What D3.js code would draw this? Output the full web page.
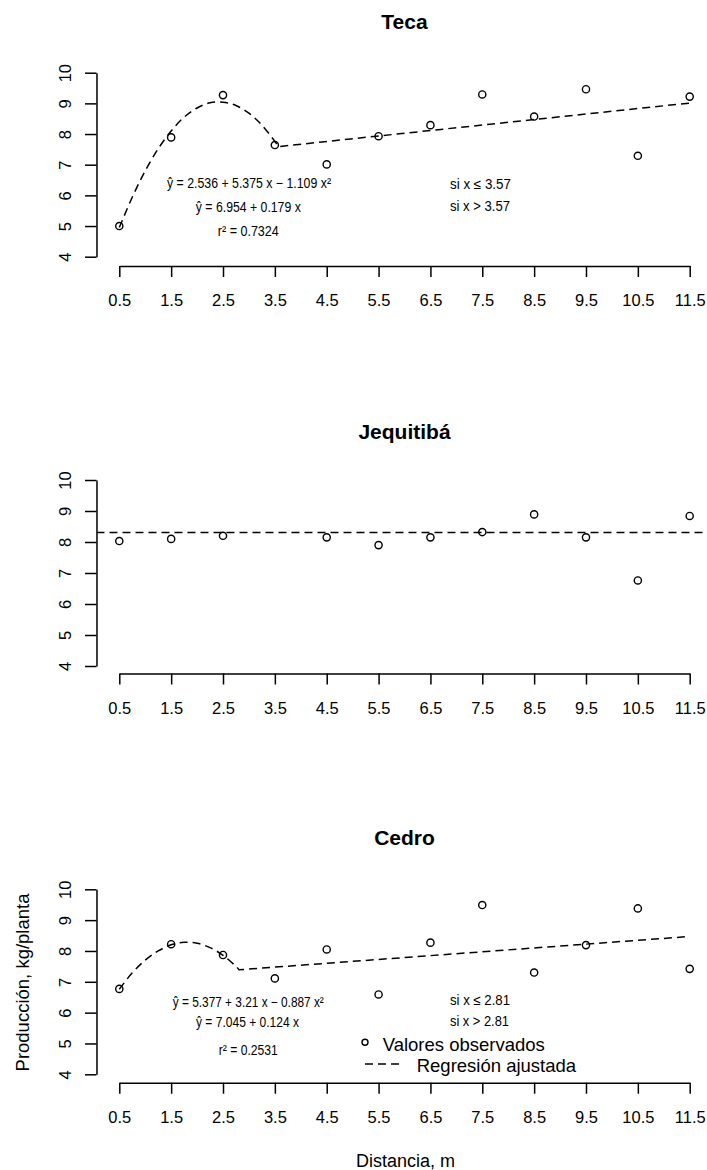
<!DOCTYPE html>
<html><head><meta charset="utf-8">
<script src="https://cdn.jsdelivr.net/npm/d3@7"></script>
<style>body{margin:0;background:#fff} svg{display:block}</style>
</head><body>
<script>
// ---------- data ----------
const distancias = [0.5, 1.5, 2.5, 3.5, 4.5, 5.5, 6.5, 7.5, 8.5, 9.5, 10.5, 11.5];
const xTickLabels = ["0.5","1.5","2.5","3.5","4.5","5.5","6.5","7.5","8.5","9.5","10.5","11.5"];
const yTicks = [4, 5, 6, 7, 8, 9, 10];
const yTickLabels = ["4", "5", "6", "7", "8", "9", "10"];
const titles = ["Teca", "Jequitibá", "Cedro"];

const teca      = [5.00, 7.89, 9.27, 7.64, 7.01, 7.93, 8.29, 9.29, 8.57, 9.46, 7.29, 9.22];
const jequitiba = [8.03, 8.10, 8.20, null, 8.15, 7.90, 8.15, 8.32, 8.89, 8.15, 6.76, 8.84];
const cedro     = [6.77, 8.22, 7.87, 7.11, 8.05, 6.59, 8.27, 9.49, 7.30, 8.19, 9.38, 7.42];

// fitted curves (curved part, then straight part)
const tecaFitX = [0.5, 0.75, 1.0, 1.25, 1.5, 1.75, 2.0, 2.25, 2.5, 2.75, 3.0, 3.25, 3.5, 3.57, 11.5];
const tecaFitY = [4.95, 5.94, 6.80, 7.52, 8.10, 8.55, 8.85, 9.02, 9.04, 8.93, 8.68, 8.29, 7.76, 7.59, 9.01];
const jequitibaFit = 8.31;
const cedroFitX = [0.5, 0.75, 1.0, 1.25, 1.5, 1.75, 2.0, 2.25, 2.5, 2.75, 2.81, 11.5];
const cedroFitY = [6.76, 7.29, 7.70, 8.00, 8.20, 8.28, 8.25, 8.11, 7.86, 7.50, 7.39, 8.47];

const tecaEq  = ["ŷ = 2.536 + 5.375 x − 1.109 x²", "ŷ = 6.954 + 0.179 x", "r² = 0.7324"];
const tecaCond = ["si  x ≤ 3.57", "si  x > 3.57"];
const cedroEq = ["ŷ = 5.377 + 3.21 x − 0.887 x²", "ŷ = 7.045 + 0.124 x", "r² = 0.2531"];
const cedroCond = ["si  x ≤ 2.81", "si  x > 2.81"];

const legendLabels = ["Valores observados", "Regresión ajustada"];
const xLabel = "Distancia, m";
const yLabel = "Producción, kg/planta";

// ---------- layout ----------
const W = 707, H = 1170;
const FONT = "'Liberation Sans', Arial, sans-serif";
const svg = d3.select("body").append("svg").attr("width", W).attr("height", H)
  .style("font-family", FONT);

const x = d3.scaleLinear().domain([0.5, 11.5]).range([119.3, 689.7]);
const plotLeft = x(0.06), plotRight = x(11.94);

const panels = [
  {y10: 72.7, y4: 256.7, axisY: 266, titleY: 29, obs: teca, fitX: tecaFitX, fitY: tecaFitY,
   eq: tecaEq, cond: tecaCond, eqBase: [188, 212, 236], eqW: [164, 105, 61], eqC: [249, 248.3, 248.3],
   condBase: [189.3, 210.7], condW: [61, 60]},
  {y10: 480, y4: 666, axisY: 673.5, titleY: 438.5, obs: jequitiba, hline: jequitibaFit},
  {y10: 889.3, y4: 1074.3, axisY: 1082.7, titleY: 845, obs: cedro, fitX: cedroFitX, fitY: cedroFitY,
   eq: cedroEq, cond: cedroCond, eqBase: [1006.5, 1027, 1054.5], eqW: [151, 103, 59], eqC: [248.3, 247.5, 248.3],
   condBase: [1005, 1026], condW: [60, 59], legend: true, ylab: true, xlab: true}
];

panels.forEach((p, i) => {
  const y = d3.scaleLinear().domain([4, 10]).range([p.y4, p.y10]);
  const g = svg.append("g");
  const clipId = "clip" + i;
  svg.append("clipPath").attr("id", clipId).append("rect")
    .attr("x", plotLeft).attr("y", y(10.24)).attr("width", plotRight - plotLeft)
    .attr("height", y(3.76) - y(10.24));

  // title
  g.append("text").attr("x", 404.5).attr("y", p.titleY).attr("text-anchor", "middle")
    .attr("font-weight", "bold").attr("font-size", 21).text(titles[i]);

  // x axis
  const xa = g.append("g").attr("transform", `translate(0,${p.axisY})`)
    .call(d3.axisBottom(x).tickValues(distancias).tickSize(11).tickSizeOuter(0)
      .tickFormat((d, k) => xTickLabels[k]));
  xa.select(".domain").attr("stroke-width", 1.5);
  xa.selectAll(".tick line").attr("stroke-width", 1.5);
  xa.selectAll(".tick text").attr("y", 40).attr("dy", null)
    .attr("font-size", 16.5).attr("font-family", FONT).attr("fill", "#000");

  // y axis
  const ya = g.append("g").attr("transform", `translate(${plotLeft},0)`)
    .call(d3.axisLeft(y).tickValues(yTicks).tickSize(11.5).tickSizeOuter(0)
      .tickFormat((d, k) => yTickLabels[k]));
  ya.select(".domain").attr("stroke-width", 1.5);
  ya.selectAll(".tick line").attr("stroke-width", 1.5);
  ya.selectAll(".tick text").attr("transform", "rotate(-90)")
    .attr("x", 0).attr("y", -25).attr("dy", null).attr("text-anchor", "middle")
    .attr("font-size", 16.5).attr("font-family", FONT).attr("fill", "#000");

  // fitted line
  const plot = g.append("g").attr("clip-path", `url(#${clipId})`);
  if (p.fitX) {
    const pts = p.fitX.map((v, k) => [v, p.fitY[k]]);
    const curved = pts.slice(0, pts.length - 1);
    const last = pts[pts.length - 1];
    const lineC = d3.line().x(d => x(d[0])).y(d => y(d[1])).curve(d3.curveCatmullRom);
    const dPath = lineC(curved) + "L" + x(last[0]) + "," + y(last[1]);
    plot.append("path").attr("d", dPath)
      .attr("fill", "none").attr("stroke", "#000").attr("stroke-width", 1.5)
      .attr("stroke-dasharray", "8,5");
  }
  if (p.hline !== undefined) {
    plot.append("line").attr("x1", plotLeft).attr("x2", plotRight)
      .attr("y1", y(p.hline)).attr("y2", y(p.hline))
      .attr("stroke", "#000").attr("stroke-width", 1.5).attr("stroke-dasharray", "8,5");
  }

  // observed points
  g.append("g").selectAll("circle")
    .data(distancias.map((d, k) => [d, p.obs[k]]).filter(d => d[1] !== null))
    .join("circle").attr("cx", d => x(d[0])).attr("cy", d => y(d[1])).attr("r", 3.6)
    .attr("fill", "none").attr("stroke", "#000").attr("stroke-width", 1.4);

  // equations
  if (p.eq) {
    const eg = g.append("g").attr("font-size", 14).attr("fill", "#000");
    p.eq.forEach((e, k) => {
      eg.append("text").attr("x", p.eqC[k]).attr("y", p.eqBase[k])
        .attr("text-anchor", "middle").attr("textLength", p.eqW[k])
        .attr("lengthAdjust", "spacingAndGlyphs").text(e);
    });
    p.cond.forEach((c, k) => {
      eg.append("text").attr("x", 450).attr("y", p.condBase[k])
        .attr("textLength", p.condW[k]).attr("lengthAdjust", "spacingAndGlyphs")
        .text(c);
    });
  }

  // legend
  if (p.legend) {
    const lg = g.append("g").attr("font-size", 18.5).attr("fill", "#000");
    lg.append("circle").attr("cx", 365).attr("cy", 1042.3).attr("r", 3)
      .attr("fill", "none").attr("stroke", "#000").attr("stroke-width", 1.4);
    lg.append("text").attr("x", 382.7).attr("y", 1051).text(legendLabels[0]);
    lg.append("line").attr("x1", 365).attr("x2", 402).attr("y1", 1064).attr("y2", 1064)
      .attr("stroke", "#000").attr("stroke-width", 1.5).attr("stroke-dasharray", "8,5");
    lg.append("text").attr("x", 416.7).attr("y", 1072.3).text(legendLabels[1]);
  }

  if (p.ylab) {
    g.append("text").attr("transform", `translate(28.5,982.5) rotate(-90)`)
      .attr("text-anchor", "middle").attr("font-size", 18.5).text(yLabel);
  }
  if (p.xlab) {
    g.append("text").attr("x", 405.5).attr("y", 1167).attr("text-anchor", "middle")
      .attr("font-size", 18).text(xLabel);
  }
});
</script>
</body></html>
